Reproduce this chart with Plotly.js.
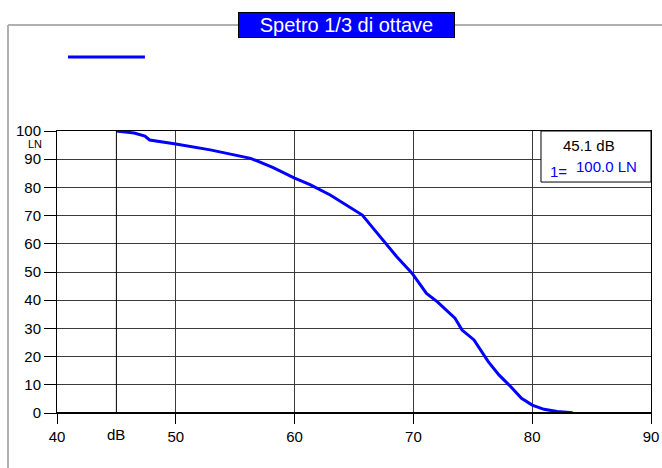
<!DOCTYPE html>
<html><head><meta charset="utf-8">
<script src="https://cdn.plot.ly/plotly-3.0.1.min.js"></script>
<style>html,body{margin:0;padding:0;background:#fff}#chart{width:662px;height:468px}</style>
</head><body><div id="chart"></div>
<script>
const levelDb = [45.0, 46.5, 47.4, 47.8, 50.0, 52.9, 56.3, 58.2, 60.0, 61.3, 63.0, 64.3, 65.7, 66.5, 67.8, 68.6, 69.9, 71.1, 72.0, 72.3, 73.5, 74.1, 75.1, 76.3, 77.2, 78.2, 79.1, 80.0, 81.0, 82.1, 83.4];
const percentLN = [100, 99.3, 98.2, 96.8, 95.4, 93.3, 90.3, 87.0, 83.3, 81.0, 77.3, 73.8, 70.2, 66.1, 59.6, 55.4, 49.5, 42.4, 39.5, 38.3, 33.6, 29.4, 25.9, 18.2, 13.5, 9.3, 5.2, 2.8, 1.3, 0.5, 0.1];
const xTicks = [40, 50, 60, 70, 80, 90];
const yTicks = [0, 10, 20, 30, 40, 50, 60, 70, 80, 90, 100];
const titleText = "Spetro 1/3 di ottave";
const infoLevel = "45.1 dB";
const infoIndex = "1=";
const infoValue = "100.0 LN";

const F = "Liberation Sans, Arial, sans-serif";
const trace = {x: levelDb, y: percentLN, type: 'scatter', mode: 'lines',
  line: {color: '#0000ff', width: 3}, hoverinfo: 'none', showlegend: false};

const layout = {
  width: 662, height: 468,
  margin: {l: 57, r: 11, t: 131, b: 55},
  paper_bgcolor: '#fff', plot_bgcolor: '#fff',
  font: {family: F, size: 15, color: '#000'},
  xaxis: {range: [40, 90], tickvals: xTicks, ticks: 'outside', ticklen: 10, tickcolor: '#000',
    showgrid: true, gridcolor: '#3a3a3a', gridwidth: 1, showline: true, linecolor: '#000', linewidth: 1,
    mirror: true, zeroline: false, tickfont: {family: F, size: 15}, fixedrange: true},
  yaxis: {range: [0, 100], tickvals: yTicks, ticks: 'outside', ticklen: 12, tickcolor: '#000',
    showgrid: true, gridcolor: '#3a3a3a', gridwidth: 1, showline: true, linecolor: '#000', linewidth: 1,
    mirror: true, zeroline: false, tickfont: {family: F, size: 15}, fixedrange: true},
  shapes: [
    {type: 'line', xref: 'paper', yref: 'paper', x0: -0.0825, x1: 1.02, y0: 1.3759, y1: 1.3759, line: {color: '#b0b0b0', width: 2}},
    {type: 'line', xref: 'paper', yref: 'paper', x0: -0.0825, x1: -0.0825, y0: 1.3759, y1: -0.2, line: {color: '#b0b0b0', width: 2}},
    {type: 'line', xref: 'x', yref: 'paper', x0: 45, x1: 45, y0: 0, y1: 1, line: {color: '#000', width: 1}},
    {type: 'line', xref: 'paper', yref: 'paper', x0: 0, x1: 1, y0: 0, y1: 0, line: {color: '#000', width: 2}},
    {type: 'line', xref: 'paper', yref: 'paper', x0: 0.0185, x1: 0.148, y0: 1.2624, y1: 1.2624, line: {color: '#0000ff', width: 3}},
    {type: 'rect', xref: 'paper', yref: 'paper', x0: 0.8148, x1: 1.0, y0: 0.819, y1: 1.0, fillcolor: '#fff', line: {color: '#000', width: 1}}
  ],
  annotations: [
    {text: titleText, xref: 'paper', yref: 'paper', x: 0.488, y: 1.3759, xanchor: 'center', yanchor: 'middle',
      showarrow: false, bgcolor: '#0000ff', bordercolor: '#000', borderwidth: 1, width: 215, height: 24, borderpad: 0,
      font: {family: F, size: 20, color: '#fff'}},
    {text: 'LN', xref: 'paper', yref: 'paper', x: -0.024, y: 0.955, xanchor: 'right', yanchor: 'middle', showarrow: false,
      font: {family: F, size: 11}, borderpad: 0},
    {text: 'dB', xref: 'x', yref: 'paper', x: 45, y: -0.078, xanchor: 'center', yanchor: 'middle', showarrow: false,
      font: {family: F, size: 15}},
    {text: infoLevel, xref: 'paper', yref: 'paper', x: 0.895, y: 0.95, xanchor: 'center', yanchor: 'middle', showarrow: false,
      font: {family: F, size: 15, color: '#000'}},
    {text: infoIndex, xref: 'paper', yref: 'paper', x: 0.845, y: 0.855, xanchor: 'center', yanchor: 'middle', showarrow: false,
      font: {family: F, size: 15, color: '#0000ff'}},
    {text: infoValue, xref: 'paper', yref: 'paper', x: 0.925, y: 0.875, xanchor: 'center', yanchor: 'middle', showarrow: false,
      font: {family: F, size: 15, color: '#0000ff'}}
  ]
};
Plotly.newPlot('chart', [trace], layout, {staticPlot: true, displayModeBar: false});
</script></body></html>
